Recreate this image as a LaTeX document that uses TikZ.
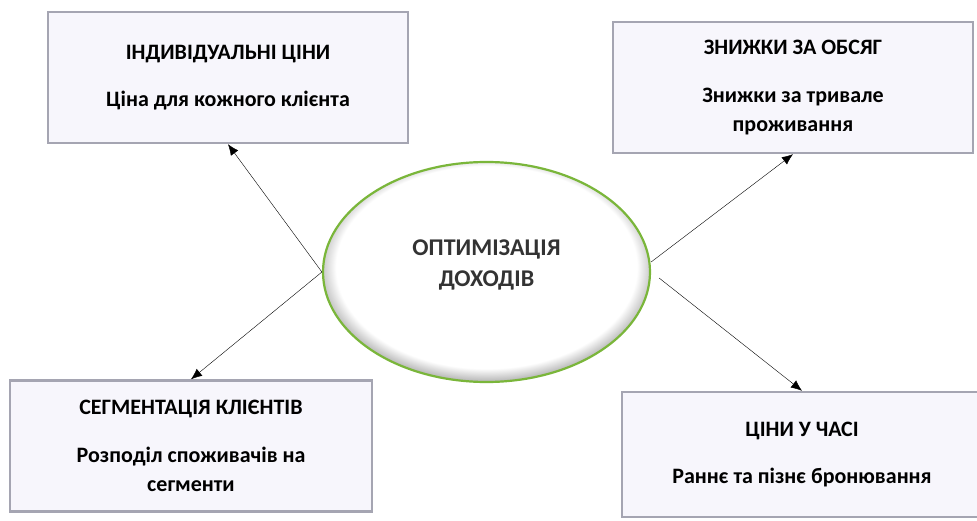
\documentclass[tikz,border=0pt]{standalone}
\usepackage{fontspec}
\setmainfont{Carlito}
\usepackage{tikz}
\usetikzlibrary{positioning,shapes.geometric,arrows.meta}

\definecolor{boxfill}{RGB}{247,246,252}
\definecolor{boxedge}{RGB}{165,165,178}
\definecolor{hubedge}{RGB}{122,182,58}
\definecolor{hubtext}{RGB}{51,51,51}
\definecolor{rimgrey}{RGB}{165,165,165}
\pgfdeclareradialshading{rim}{\pgfpoint{0bp}{2bp}}{color(0bp)=(white); color(23bp)=(white); color(26.5bp)=(rimgrey); color(50bp)=(rimgrey)}

\begin{document}
\begin{tikzpicture}[x=1pt, y=1pt, on grid,
    box/.style = {rectangle, minimum width=360pt, minimum height=131pt,
      fill=boxfill, draw=boxedge, line width=2.4pt, align=center,
      font=\bfseries\fontsize{22}{29}\selectfont},
    hub/.style = {ellipse, minimum width=327pt, minimum height=220pt,
      draw=hubedge, line width=2.2pt, shade, shading=rim,
      align=center, text=hubtext, font=\bfseries\fontsize{24}{31}\selectfont},
    link/.style = {-{Latex[length=11pt, width=9pt]}, thin}]
  \useasboundingbox (0,0) rectangle (977,520);

  \node[hub] (c) at (486.5,248) {ОПТИМІЗАЦІЯ\\ДОХОДІВ\\[-13pt]};

  \node[box, above left=194.5pt and 258.5pt of c] (ind)
    {ІНДИВІДУАЛЬНІ ЦІНИ\\[18pt] Ціна для кожного клієнта};
  \node[box, above right=184.5pt and 306.5pt of c] (vol)
    {ЗНИЖКИ ЗА ОБСЯГ\\[19pt] Знижки за тривале\\ проживання};
  \node[box, below left=174pt and 295.5pt of c, minimum width=362pt] (seg)
    {СЕГМЕНТАЦІЯ КЛІЄНТІВ\\[19pt] Розподіл споживачів на\\ сегменти};
  \node[box, below right=182.5pt and 315.5pt of c, minimum height=125pt] (time)
    {ЦІНИ У ЧАСІ\\[18pt] Раннє та пізнє бронювання};

  \draw[link] (c.west) -- (ind.south);
  \draw[link] (c.west) -- (seg.north);
  \draw[link] ([yshift=10pt]c.east) -- (vol.south);
  \draw[link] ([shift={(8pt,-6pt)}]c.east) -- (time.north);
\end{tikzpicture}
\end{document}
